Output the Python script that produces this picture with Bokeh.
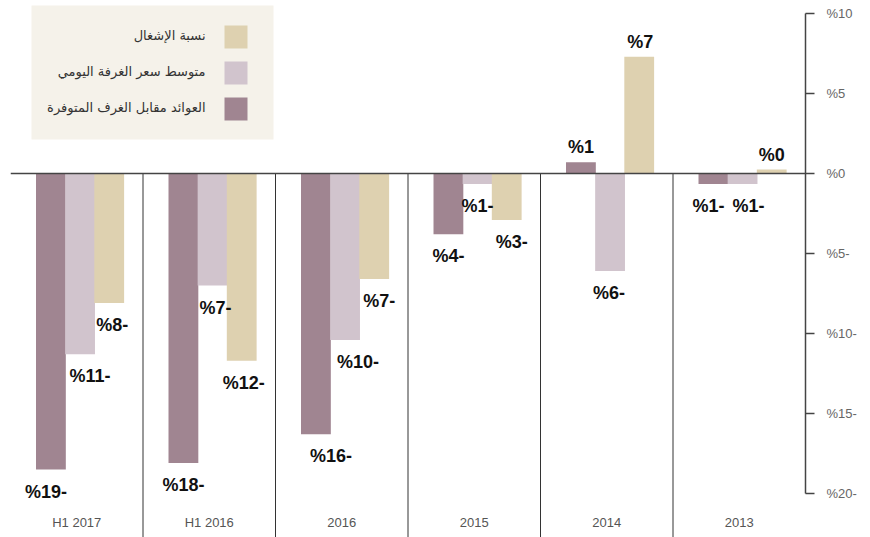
from bokeh.plotting import figure
from bokeh.models import Range1d, FactorRange, ColumnDataSource, FixedTicker, Span, BoxAnnotation, Label
from bokeh.transform import dodge
from bokeh.core.properties import value
from bokeh.embed import file_html
from bokeh.resources import INLINE

# ---- data ----
categories = ["H1 2017", "H1 2016", "2016", "2015", "2014", "2013"]
revpar = [-18.5, -18.1, -16.3, -3.8, 0.7, -0.65]      # العوائد مقابل الغرف المتوفرة
adr = [-11.3, -7.0, -10.4, -0.65, -6.1, -0.65]        # متوسط سعر الغرفة اليومي
occupancy = [-8.1, -11.7, -6.6, -2.9, 7.3, 0.25]      # نسبة الإشغال
series_names = ["العوائد مقابل الغرف المتوفرة", "متوسط سعر الغرفة اليومي", "نسبة الإشغال"]
ytick_values = [10, 5, 0, -5, -10, -15, -20]
ytick_labels = ["%10", "%5", "%0", "%5-", "%10-", "%15-", "%20-"]

colors = ["#A08591", "#D1C4CD", "#DED1B0"]
# horizontal nudges (px) of the value labels, per series
label_dx = [[-5, 0, 15, 0, 0, -5],
            [10, 3, 13, 0, -1, 6],
            [3, 2, 5, 5, 1, 0]]


def fmt(v):
    r = int(abs(v) + 0.5)
    return "%" + str(r) + ("-" if v < 0 and r != 0 else "")


# frame geometry helpers (screen px -> data)
FRAME_L, PX_CAT, Y0_PX, PX_UNIT = 10, 132.5, 173, 16.0
sx = lambda px: (px - FRAME_L) / PX_CAT
sy = lambda py: (Y0_PX - py) / PX_UNIT

p = figure(width=870, height=537,
           x_range=FactorRange(factors=categories, range_padding=0),
           y_range=Range1d(sy(537), sy(0)),
           output_backend="svg", toolbar_location=None,
           x_axis_location=None, y_axis_location="right",
           min_border_left=10, min_border_right=65,
           min_border_top=0, min_border_bottom=0)
p.grid.visible = False
p.outline_line_color = None
p.background_fill_color = "white"

series = [revpar, adr, occupancy]
offsets = [-0.195, 0.025, 0.245]
data = dict(cat=categories)
for i, s in enumerate(series):
    data[f"v{i}"] = s
    data[f"l{i}"] = [fmt(v) for v in s]
    data[f"o{i}"] = [22 if v < 0 else -15 for v in s]
    data[f"d{i}"] = label_dx[i]
src = ColumnDataSource(data)

# dividers between groups
div_src = ColumnDataSource(dict(c=categories[1:]))
p.segment(x0=dodge("c", -0.5, range=p.x_range), y0=0,
          x1=dodge("c", -0.5, range=p.x_range), y1=sy(560),
          source=div_src, line_color="#333333", line_width=1)

for i in range(3):
    p.vbar(x=dodge("cat", offsets[i], range=p.x_range), top=f"v{i}", bottom=0,
           width=0.225, source=src, fill_color=colors[i], line_color=None)

for i in range(3):
    p.text(x=dodge("cat", offsets[i], range=p.x_range), y=f"v{i}", text=f"l{i}",
           x_offset=f"d{i}", y_offset=f"o{i}", source=src,
           text_align="center", text_baseline="middle",
           text_font=value("Liberation Sans"), text_font_style="bold",
           text_font_size="18px", text_color="#111111")

p.add_layout(Span(location=0, dimension="width", line_color="#444444", line_width=1.5))

# category labels
p.text(x="cat", y=sy(522), text="cat", source=src, text_align="center",
       text_baseline="middle", text_font=value("Liberation Sans"),
       text_font_size="13px", text_color="#555555")

# right axis
ax = p.yaxis[0]
ax.ticker = FixedTicker(ticks=ytick_values)
ax.major_label_overrides = {v: l for v, l in zip(ytick_values, ytick_labels)}
ax.bounds = (-20, 10)
ax.axis_line_color = "#444444"
ax.axis_line_width = 1.5
ax.major_tick_line_color = "#444444"
ax.major_tick_line_width = 1.5
ax.major_tick_out = 9
ax.major_tick_in = 0
ax.minor_tick_out = 0
ax.minor_tick_in = 0
ax.major_label_standoff = 12
ax.major_label_text_font = "Liberation Sans"
ax.major_label_text_font_size = "13px"
ax.major_label_text_color = "#666666"

# legend (RTL: swatch on the right of the text)
p.add_layout(BoxAnnotation(left=sx(31), right=sx(273), top=sy(5), bottom=sy(139),
                           fill_color="#F5F2EA", fill_alpha=1, line_color=None))
legend_rows = [(2, 36.5), (1, 72.5), (0, 108.5)]
for idx, cy in legend_rows:
    p.add_layout(BoxAnnotation(left=sx(224), right=sx(247), top=sy(cy - 11.5), bottom=sy(cy + 11.5),
                               fill_color=colors[idx], fill_alpha=1, line_color=None))
    p.add_layout(Label(x=sx(205), y=sy(cy - 2), text=series_names[idx], text_align="right",
                       text_baseline="middle", text_font="DejaVu Sans",
                       text_font_size="13px", text_color="#333333"))

open("out.html", "w").write(file_html(p, INLINE))
